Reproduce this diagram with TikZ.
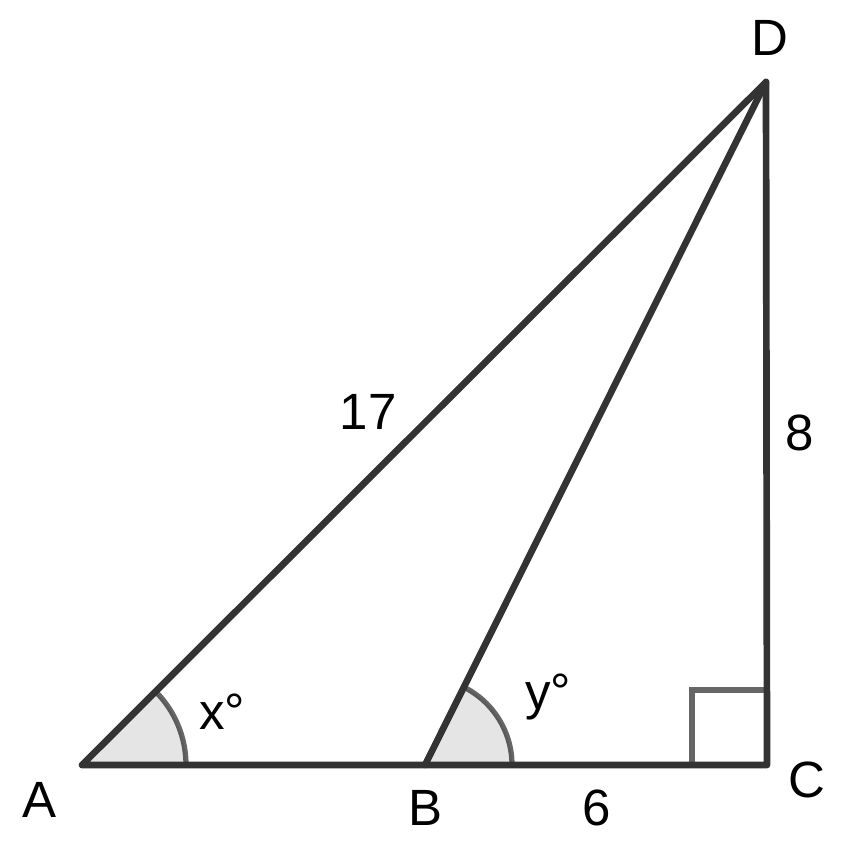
\documentclass[tikz,border=0pt]{standalone}
\usepackage{fontspec}
\setmainfont{Liberation Sans}
\definecolor{edgegray}{HTML}{333333}
\definecolor{arcfill}{HTML}{E5E5E5}
\begin{document}
\begin{tikzpicture}[x=0.01cm, y=0.01cm,
        side/.style={edgegray, line width=1.9pt, line cap=round, line join=round},
        anglemark/.style={draw=black, draw opacity=0.6, line width=1.5pt},
        ptlabel/.style={black, font=\fontsize{14.5}{17}\selectfont, inner sep=0pt}]
        \useasboundingbox (0,0) rectangle (844,846);

        \coordinate (A) at (82,81);
        \coordinate (B) at (425,81);
        \coordinate (C) at (767,81);
        \coordinate (D) at (766,764);

        % angle marks
        \fill [arcfill] (A) -- ++(0:104) arc (0:45:104) -- cycle;
        \draw [anglemark] (A) ++(0:104) arc (0:45:104);
        \fill [arcfill] (B) -- ++(0:87) arc (0:63.5:87) -- cycle;
        \draw [anglemark] (B) ++(0:87) arc (0:63.5:87);
        \draw [anglemark] (C) ++(-75,0) -- ++(0,75) -- ++(75,0);

        \draw [side] (A) -- (C) -- (D) -- cycle;
        \draw [side] (B) -- (D);

        \node [ptlabel] (lA) at (40,46) {A};
        \node [ptlabel] (lB) at (425,38) {B};
        \node [ptlabel] (lC) at (807,66) {C};
        \node [ptlabel] (lD) at (770,808) {D};
        \node [ptlabel] (lAD) at (368,434) {17};
        \node [ptlabel] (lCD) at (800,413) {8};
        \node [ptlabel] (lBC) at (597,38) {6};
        \node [ptlabel] (lx) at (222,134) {x°};
        \node [ptlabel] (ly) at (548,149) {y°};
    \end{tikzpicture}
\end{document}
